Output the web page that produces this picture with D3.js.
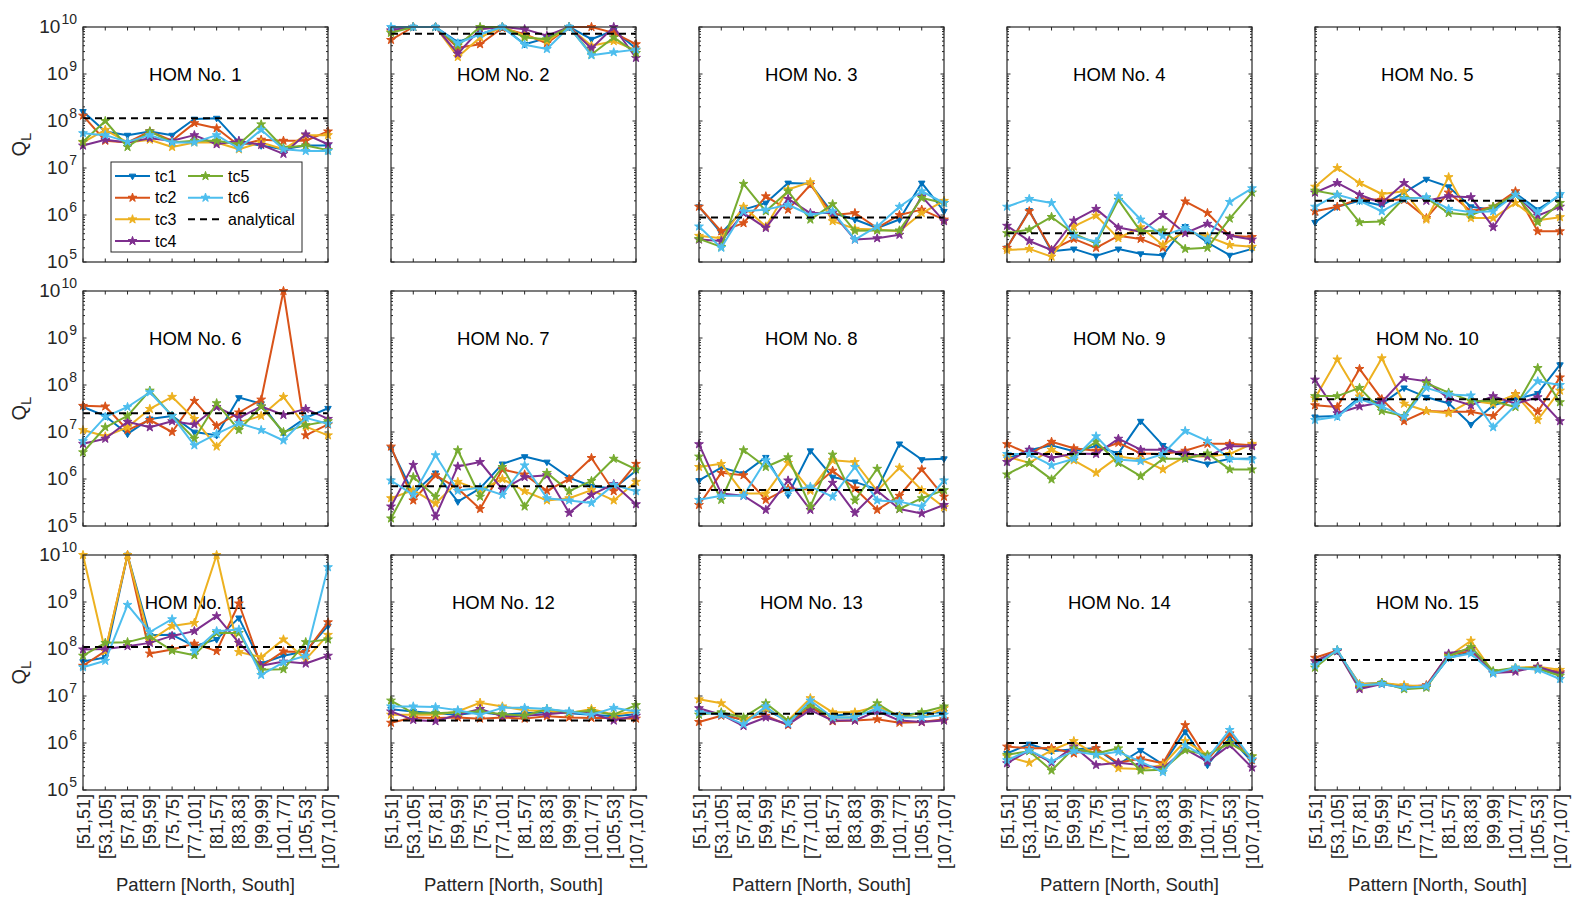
<!DOCTYPE html>
<html>
<head>
<meta charset="utf-8">
<script src="https://cdn.jsdelivr.net/npm/d3@7"></script>
<style>
  body { margin: 0; background: #fff; }
  text { font-family: "Liberation Sans", Arial, Helvetica, sans-serif; fill: #262626; }
</style>
</head>
<body>
<div id="chart"></div>
<script>
// x categories: pattern [North, South]
var patterns = ["[51,51]", "[53,105]", "[57,81]", "[59,59]", "[75,75]", "[77,101]",
                "[81,57]", "[83,83]", "[99,99]", "[101,77]", "[105,53]", "[107,107]"];
var homTitles = ["HOM No. 1", "HOM No. 2", "HOM No. 3", "HOM No. 4", "HOM No. 5",
                 "HOM No. 6", "HOM No. 7", "HOM No. 8", "HOM No. 9", "HOM No. 10",
                 "HOM No. 11", "HOM No. 12", "HOM No. 13", "HOM No. 14", "HOM No. 15"];
var seriesNames = ["tc1", "tc2", "tc3", "tc4", "tc5", "tc6"];
var seriesColors = ["#0072BD", "#D95319", "#EDB120", "#7E2F8E", "#77AC30", "#4DBEEE"];
var yTickExps = [5, 6, 7, 8, 9, 10];

// analytical Q_L per HOM
var analytical = [1.15e8, 7.2e9, 8.9e5, 4.1e5, 2e6, 2.5e7, 7e5, 5.8e5, 3.4e6, 5e7, 1.1e8, 3e6, 4.2e6, 1e6, 5.8e7];

// one row per HOM, 12 patterns each
var tc1 = [
  [1.6e8, 6e7, 5e7, 6e7, 5e7, 1.1e8, 1.15e8, 3.5e7, 3e7, 2.5e7, 3e7, 3e7],
  [9.5e9, 1e10, 1e10, 4.8e9, 7e9, 1e10, 4.3e9, 5.8e9, 1e10, 5.5e9, 8.5e9, 3.5e9],
  [1.5e6, 4.1e5, 1.3e6, 1.8e6, 4.8e6, 4.6e6, 1.1e6, 8e5, 5.3e5, 8e5, 4.8e6, 1.2e6],
  [2e5, 1.25e6, 1.7e5, 1.9e5, 1.35e5, 1.9e5, 1.5e5, 1.4e5, 5.7e5, 2.6e5, 1.4e5, 1.9e5],
  [7e5, 1.5e6, 2e6, 1.6e6, 3e6, 5.8e6, 4e6, 1.5e6, 1.3e6, 2.9e6, 1.3e6, 2.6e6],
  [3.4e7, 2.2e7, 9.1e6, 1.9e7, 2.2e7, 1e7, 8.5e6, 5.4e7, 4e7, 9.5e6, 2e7, 3.2e7],
  [4.5e6, 4.9e5, 1.35e6, 3.3e5, 6.3e5, 2.1e6, 3e6, 2.3e6, 1.07e6, 7e5, 6.3e5, 1.5e6],
  [9.3e5, 1.75e6, 1.3e6, 2.9e6, 4.6e5, 4e6, 1.1e6, 8.7e5, 6e5, 5.6e6, 2.6e6, 2.7e6],
  [2.7e6, 4.1e6, 5.2e6, 3.9e6, 5e6, 3.5e6, 1.7e7, 5.2e6, 2.8e6, 2.1e6, 2.7e6, 2.7e6],
  [2.1e7, 2.2e7, 5.5e7, 4e7, 8.7e7, 5.5e7, 4.1e7, 1.45e7, 3.7e7, 5e7, 6.6e7, 2.7e8],
  [5.4e7, 6.6e7, 1e10, 1.95e8, 2e8, 1.15e8, 1.6e8, 4.6e8, 4.9e7, 7.2e7, 9e7, 3.1e8],
  [5.2e6, 4.7e6, 4.3e6, 4e6, 4.5e6, 4e6, 4.3e6, 4.5e6, 4.3e6, 4e6, 3.7e6, 4.1e6],
  [4.5e6, 4.3e6, 3e6, 5e6, 3e6, 5.5e6, 3.8e6, 4.2e6, 4.5e6, 4e6, 4.3e6, 4.5e6],
  [6e5, 9.5e5, 6.7e5, 7.4e5, 7.7e5, 3.5e5, 7e5, 3.5e5, 1.75e6, 3.4e5, 1.3e6, 4e5],
  [5e7, 9e7, 1.8e7, 1.9e7, 1.6e7, 1.6e7, 6.5e7, 8.5e7, 3.3e7, 3.8e7, 4e7, 2.8e7]
];
var tc2 = [
  [1.3e8, 3.8e7, 3.5e7, 6e7, 3.8e7, 9e7, 7e7, 3e7, 4e7, 3.8e7, 3.8e7, 6e7],
  [5.3e9, 1e10, 1e10, 3.6e9, 4.3e9, 9.5e9, 7e9, 4.5e9, 1e10, 1e10, 7.5e9, 4.3e9],
  [1.5e6, 4.5e5, 6.7e5, 2.5e6, 1.3e6, 4.4e6, 1e6, 1.1e6, 5.3e5, 1e6, 1.3e6, 8e5],
  [2e5, 1.2e6, 1.8e5, 3.1e5, 2e5, 3.6e5, 3.1e5, 2e5, 1.95e6, 1.1e6, 3.6e5, 3.4e5],
  [1.2e6, 1.5e6, 2.2e6, 2.1e6, 2.1e6, 8.6e5, 3e6, 1.2e6, 1.5e6, 3.2e6, 4.5e5, 4.5e5],
  [3.6e7, 3.5e7, 1.1e7, 1.8e7, 1e7, 4.6e7, 1.35e7, 2.6e7, 4.9e7, 1e10, 8.5e6, 1.45e7],
  [4.9e6, 3.5e5, 1.2e6, 6.3e5, 2.3e5, 1.6e6, 1.25e6, 5.6e5, 1e6, 2.8e6, 5.5e5, 2.1e6],
  [2.8e5, 1.35e6, 1.2e6, 3.6e5, 6.3e5, 6e5, 1.5e6, 6.3e5, 2.2e5, 4.4e5, 1.6e6, 4.2e5],
  [5.5e6, 3.4e6, 6.2e6, 4.5e6, 4e6, 5.9e6, 3.5e6, 3.4e6, 4e6, 5.6e6, 5.6e6, 5.2e6],
  [3.7e7, 3.4e7, 2.2e8, 5e7, 1.7e7, 2.8e7, 2.7e7, 2.7e7, 2.2e7, 6.4e7, 2.7e7, 1.45e8],
  [4.4e7, 9e7, 1e10, 8e7, 9.8e7, 1.3e8, 9e7, 9.3e8, 4.3e7, 8.9e7, 8.6e7, 3.7e8],
  [2.7e6, 3.5e6, 3.4e6, 3.5e6, 3.3e6, 3.5e6, 3.3e6, 3.7e6, 3.5e6, 3.4e6, 3.4e6, 3.3e6],
  [2.8e6, 3.8e6, 3.2e6, 3.8e6, 2.4e6, 6e6, 2.9e6, 3e6, 3.2e6, 2.7e6, 2.8e6, 3.2e6],
  [8.4e5, 7.7e5, 7.8e5, 6e5, 7.7e5, 3.8e5, 4.7e5, 3.7e5, 2.4e6, 4.4e5, 1.6e6, 4.3e5],
  [6.5e7, 9.3e7, 1.5e7, 1.9e7, 1.6e7, 1.7e7, 7.5e7, 9e7, 3.2e7, 3.6e7, 4e7, 3.2e7]
];
var tc3 = [
  [3.5e7, 6.5e7, 3.5e7, 4e7, 2.8e7, 3.5e7, 3.5e7, 2.5e7, 3.5e7, 2.5e7, 5e7, 5e7],
  [8e9, 1e10, 1e10, 2.3e9, 6e9, 1e10, 6.5e9, 5e9, 1e10, 4e9, 5e9, 3.2e9],
  [3.6e5, 3.2e5, 1.5e6, 5.7e5, 3.5e6, 5e6, 7.4e5, 5.1e5, 4.9e5, 4.5e5, 1.1e6, 2e6],
  [1.8e5, 1.9e5, 1.3e5, 5.7e5, 9.7e5, 3.2e5, 5.5e5, 2.3e5, 4.5e5, 3.5e5, 2.3e5, 2.1e5],
  [4e6, 1e7, 4.8e6, 2.8e6, 3.2e6, 8e5, 6.4e6, 8.6e5, 8.6e5, 1.8e6, 7.7e5, 9e5],
  [1.1e7, 8.1e6, 1.26e7, 3.1e7, 5.6e7, 1.9e7, 4.9e6, 1.6e7, 2.2e7, 5.6e7, 1.3e7, 8.5e6],
  [3.9e5, 5.8e5, 3e5, 8.7e5, 5.8e5, 1e6, 5.5e5, 3.5e5, 3.9e5, 5.8e5, 3.5e5, 8.7e5],
  [1.8e6, 2.1e6, 4.9e5, 4.9e5, 2.2e6, 5.6e5, 2.5e6, 2.3e6, 5.6e5, 1.75e6, 5.8e5, 2.5e5],
  [3e6, 2.2e6, 4.2e6, 2.5e6, 1.35e6, 3e6, 2.6e6, 1.6e6, 3e6, 3e6, 3.4e6, 5.6e6],
  [5.2e7, 3.5e8, 5.7e7, 3.7e8, 4e7, 2.8e7, 2.5e7, 4.6e7, 4e7, 6.3e7, 1.8e7, 7.6e7],
  [1e10, 9e7, 1e10, 1.5e8, 3.1e8, 3.6e8, 1e10, 8.6e7, 6.7e7, 1.6e8, 6e7, 2e8],
  [4e6, 4e6, 4e6, 4.7e6, 7.2e6, 6e6, 5e6, 4.8e6, 4.3e6, 5.3e6, 4e6, 4.7e6],
  [8.5e6, 7e6, 3e6, 5.5e6, 3e6, 9e6, 4.5e6, 4.5e6, 6e6, 3.8e6, 3.5e6, 5.5e6],
  [5.2e5, 3.8e5, 7e5, 1.1e6, 5.6e5, 2.9e5, 2.8e5, 3.4e5, 1.1e6, 5.6e5, 1e6, 5.2e5],
  [5.5e7, 9e7, 1.8e7, 1.9e7, 1.7e7, 1.6e7, 7e7, 1.5e8, 3.2e7, 4e7, 4.2e7, 3.6e7]
];
var tc4 = [
  [3e7, 4e7, 3.5e7, 4.3e7, 3.8e7, 5e7, 3.2e7, 3.8e7, 3.1e7, 2e7, 5.2e7, 3.2e7],
  [8.5e9, 1e10, 1e10, 2.7e9, 9e9, 1e10, 9e9, 6.5e9, 1e10, 3.5e9, 1e10, 2.2e9],
  [3e5, 2.8e5, 1.1e6, 5.3e5, 2.2e6, 1.1e6, 1.1e6, 3e5, 3.2e5, 3.8e5, 2.5e6, 7.4e5],
  [5.9e5, 2.8e5, 1.8e5, 7.6e5, 1.35e6, 5.4e5, 4.4e5, 1e6, 4.1e5, 6.5e5, 3.6e5, 3e5],
  [3e6, 4.8e6, 2.7e6, 1.8e6, 4.8e6, 2e6, 2.5e6, 2.4e6, 5.5e5, 2.7e6, 9.7e5, 1.5e6],
  [5.6e6, 7.2e6, 1.65e7, 1.26e7, 1.7e7, 1.45e7, 3.4e7, 2e7, 3.5e7, 2.3e7, 3.1e7, 1.9e7],
  [2.6e5, 2e6, 1.6e5, 1.85e6, 2.3e6, 6e5, 1.1e6, 1.2e6, 1.9e5, 4.6e5, 7.8e5, 2.9e5],
  [5.5e6, 4.9e5, 4.4e5, 2.2e5, 9.3e5, 2.2e5, 8.3e5, 1.9e5, 5.6e5, 2.3e5, 1.85e5, 2.8e5],
  [2.3e6, 4.2e6, 2.8e6, 3.5e6, 3.4e6, 7.2e6, 4.2e6, 4.2e6, 3.5e6, 3e6, 5e6, 5e6],
  [1.3e8, 2.5e7, 3.5e7, 4.3e7, 1.4e8, 1.2e8, 5.2e7, 3.7e7, 5.8e7, 4e7, 5.5e7, 1.7e7],
  [9.8e7, 1e8, 1.15e8, 1.35e8, 1.9e8, 2.4e8, 5e8, 1.35e8, 4.4e7, 5.4e7, 4.9e7, 7.2e7],
  [4.7e6, 3.1e6, 2.9e6, 4e6, 5.3e6, 3.7e6, 3.8e6, 4.1e6, 4.5e6, 4.3e6, 3e6, 3.8e6],
  [5.5e6, 4e6, 2.3e6, 3.5e6, 2.5e6, 5e6, 3e6, 3e6, 4.8e6, 3e6, 2.8e6, 3e6],
  [3.7e5, 7e5, 3.8e5, 8.4e5, 3.4e5, 3.8e5, 3.4e5, 2.9e5, 7.4e5, 4e5, 9e5, 3e5],
  [5.5e7, 9e7, 1.4e7, 1.8e7, 1.5e7, 1.6e7, 8e7, 1e8, 3.1e7, 3.3e7, 4.2e7, 3e7]
];
var tc5 = [
  [3.6e7, 1e8, 2.8e7, 6e7, 3.5e7, 3.8e7, 3.8e7, 3.2e7, 8.5e7, 2.7e7, 3e7, 2.4e7],
  [7.5e9, 1e10, 1e10, 4e9, 1e10, 1e10, 6e9, 5.5e9, 1e10, 2.6e9, 6e9, 2.8e9],
  [3.1e5, 2.1e5, 4.6e6, 1.2e6, 3.2e6, 8e5, 1.7e6, 4.6e5, 4.7e5, 4.7e5, 2.3e6, 1.8e6],
  [4.1e5, 4.9e5, 9.1e5, 4e5, 2.5e5, 2.1e6, 4.5e5, 4.7e5, 1.9e5, 2e5, 8.4e5, 3e6],
  [3.3e6, 2.7e6, 7e5, 7.3e5, 2.3e6, 2.3e6, 1.1e6, 1e6, 1.5e6, 2.7e6, 7e5, 1.8e6],
  [3.7e6, 1.26e7, 2.2e7, 7.6e7, 2.2e7, 7.2e6, 4.1e7, 1.1e7, 3.5e7, 1e7, 1.4e7, 1.7e7],
  [1.45e5, 1.1e6, 4.2e5, 4.1e6, 4.2e5, 1.8e6, 2.6e5, 1.35e6, 5.5e5, 9.1e5, 2.7e6, 1.6e6],
  [3e6, 3.6e5, 4.1e6, 1.8e6, 2.9e6, 2.6e5, 3.3e6, 3.5e5, 1.65e6, 2.3e5, 3.9e5, 5.8e5],
  [1.25e6, 2.2e6, 9.8e5, 3e6, 6.2e6, 2.2e6, 1.15e6, 2.7e6, 2.7e6, 3.5e6, 1.6e6, 1.6e6],
  [5.8e7, 5.8e7, 8.7e7, 2.8e7, 2.2e7, 1.1e8, 6.9e7, 4.6e7, 4.5e7, 3.4e7, 2.3e8, 4.3e7],
  [7.2e7, 1.35e8, 1.4e8, 1.85e8, 9.2e7, 7.4e7, 2.2e8, 2.2e8, 3.6e7, 3.7e7, 1.4e8, 1.6e8],
  [8e6, 4.3e6, 4.3e6, 4.5e6, 4.7e6, 4.1e6, 3.8e6, 5.3e6, 4.5e6, 4.8e6, 4e6, 6.4e6],
  [4e6, 4.5e6, 3.5e6, 7e6, 3e6, 6.5e6, 3.5e6, 3.5e6, 7e6, 3.5e6, 4.5e6, 6e6],
  [5.6e5, 6.7e5, 2.6e5, 7.7e5, 6e5, 7.7e5, 2.6e5, 2.7e5, 7e5, 5.6e5, 1e6, 5.2e5],
  [4e7, 9.5e7, 1.6e7, 1.9e7, 1.4e7, 1.5e7, 7e7, 1.1e8, 3.4e7, 4e7, 3.8e7, 2.7e7]
];
var tc6 = [
  [5.5e7, 5e7, 3.6e7, 5e7, 3.5e7, 3.5e7, 5e7, 2.6e7, 6.5e7, 2.5e7, 2.3e7, 2.3e7],
  [1e10, 1e10, 1e10, 4.5e9, 7e9, 1e10, 4.2e9, 3.4e9, 1e10, 2.5e9, 2.9e9, 3.3e9],
  [5.7e5, 2e5, 1.2e6, 1.3e6, 1.65e6, 1e6, 1.2e6, 3e5, 5.7e5, 1.5e6, 3.2e6, 1.8e6],
  [1.5e6, 2.2e6, 1.8e6, 3.6e5, 2.7e5, 2.5e6, 8e5, 3.6e5, 5.3e5, 3e5, 1.9e6, 3.7e6],
  [1.5e6, 2.7e6, 2e6, 1.2e6, 2.2e6, 2.4e6, 1.35e6, 1.15e6, 1.2e6, 2.7e6, 1.15e6, 2.8e6],
  [6.4e6, 2.1e7, 3.4e7, 7e7, 2.2e7, 5.2e6, 9.1e6, 1.55e7, 1.1e7, 6.6e6, 2e7, 1.5e7],
  [9.3e5, 4.6e5, 3.2e6, 5.6e5, 6.6e5, 4.6e5, 1.95e6, 3.9e5, 3.5e5, 3.1e5, 7.5e5, 5.5e5],
  [3.6e5, 4.4e5, 4.4e5, 2.5e6, 5.4e5, 6.9e5, 4.2e5, 1.8e6, 3.5e5, 3.3e5, 2.6e5, 9.3e5],
  [3.4e6, 3.4e6, 1.95e6, 2.7e6, 8.1e6, 2.6e6, 2.4e6, 3.4e6, 1.05e7, 6.4e6, 2.7e6, 2.6e6],
  [1.8e7, 2.1e7, 5e7, 3.5e7, 2.1e7, 8.7e7, 6.3e7, 6e7, 1.26e7, 3.7e7, 1.2e8, 1e8],
  [4.1e7, 5.6e7, 8.7e8, 2.3e8, 4.3e8, 9e7, 2.4e8, 2.6e8, 2.8e7, 5.2e7, 7.2e7, 5.5e9],
  [6e6, 6e6, 5.8e6, 5e6, 4e6, 5.6e6, 5.6e6, 5.3e6, 4.7e6, 4e6, 5.6e6, 4.7e6],
  [4.5e6, 4e6, 2.5e6, 6e6, 2.6e6, 8e6, 3.5e6, 3.5e6, 5.5e6, 3.5e6, 3.5e6, 4e6],
  [4.3e5, 7e5, 4.1e5, 6.7e5, 5.6e5, 6.5e5, 4e5, 2.4e5, 9e5, 4.7e5, 1.9e6, 4.5e5],
  [4.5e7, 9.5e7, 1.7e7, 1.8e7, 1.5e7, 1.6e7, 6.5e7, 8e7, 3e7, 4e7, 3.6e7, 2.3e7]
];
var allSeries = [tc1, tc2, tc3, tc4, tc5, tc6];

var W = 1586, H = 904;
var axLeft = 83, axTop = 27, axW = 245, axH = 235, colStep = 308, rowStep = 264;

var svg = d3.select("#chart").append("svg")
  .attr("width", W).attr("height", H)
  .style("background", "#fff");

var x = d3.scalePoint().domain(patterns).range([0, axW]).padding(0);
var y = d3.scaleLog().domain([1e5, 1e10]).range([axH, 0]);

var symbols = [d3.symbolTriangle, d3.symbolStar, d3.symbolStar, d3.symbolStar, d3.symbolStar, d3.symbolStar];
function markerPath(i) {
  return d3.symbol().type(symbols[i]).size(i === 0 ? 18 : 24)();
}

var minorTicks = [];
for (var e = 5; e < 10; e++) for (var m = 2; m <= 9; m++) minorTicks.push(m * Math.pow(10, e));
var majorTicks = yTickExps.map(function(k){ return Math.pow(10, k); });

var line = d3.line().x(function(d, i){ return x(patterns[i]); }).y(function(d){ return y(d); });

homTitles.forEach(function(title, h) {
  var row = Math.floor(h / 5), col = h % 5;
  var g = svg.append("g")
    .attr("transform", "translate(" + (axLeft + col * colStep) + "," + (axTop + row * rowStep) + ")");

  g.append("rect").attr("width", axW).attr("height", axH)
    .attr("fill", "#fff");

  // tick marks inside the box
  var tk = g.append("g").attr("stroke", "#262626").attr("stroke-width", 1);
  patterns.forEach(function(p) {
    tk.append("line").attr("x1", x(p)).attr("x2", x(p)).attr("y1", axH).attr("y2", axH - 3.5);
    tk.append("line").attr("x1", x(p)).attr("x2", x(p)).attr("y1", 0).attr("y2", 3.5);
  });
  majorTicks.forEach(function(v) {
    tk.append("line").attr("x1", 0).attr("x2", 3.5).attr("y1", y(v)).attr("y2", y(v));
    tk.append("line").attr("x1", axW).attr("x2", axW - 3.5).attr("y1", y(v)).attr("y2", y(v));
  });
  minorTicks.forEach(function(v) {
    tk.append("line").attr("x1", 0).attr("x2", 2).attr("y1", y(v)).attr("y2", y(v));
    tk.append("line").attr("x1", axW).attr("x2", axW - 2).attr("y1", y(v)).attr("y2", y(v));
  });

  // title text at ([77,101], 1e9)
  g.append("text")
    .attr("x", x(patterns[5]) + 1).attr("y", y(1e9) + 6.5)
    .attr("text-anchor", "middle").attr("font-size", 18.5).style("fill", "#000")
    .text(title);

  // series
  allSeries.forEach(function(s, i) {
    var vals = s[h];
    g.append("path").datum(vals)
      .attr("d", line).attr("fill", "none")
      .attr("stroke", seriesColors[i]).attr("stroke-width", 2)
      .attr("stroke-linejoin", "round");
    g.selectAll(".m" + i).data(vals).enter().append("path")
      .attr("class", "m" + i)
      .attr("d", markerPath(i))
      .attr("transform", function(d, j) {
        return "translate(" + x(patterns[j]) + "," + y(d) + ")" + (i === 0 ? " rotate(180)" : "");
      })
      .attr("fill", seriesColors[i]).attr("stroke", seriesColors[i]).attr("stroke-width", 1);
  });

  // analytical
  g.append("line")
    .attr("x1", 0).attr("x2", axW)
    .attr("y1", y(analytical[h])).attr("y2", y(analytical[h]))
    .attr("stroke", "#000").attr("stroke-width", 2).attr("stroke-dasharray", "7,5");

  // box
  g.append("rect").attr("width", axW).attr("height", axH)
    .attr("fill", "none").attr("stroke", "#262626").attr("stroke-width", 1.2);

  // y labels (first column)
  if (col === 0) {
    yTickExps.forEach(function(k) {
      var t = g.append("text").attr("x", -6).attr("y", y(Math.pow(10, k)) + 6)
        .attr("text-anchor", "end").attr("font-size", 19);
      t.append("tspan").text("10");
      t.append("tspan").attr("dx", 1).attr("dy", -9).attr("font-size", 14).text(k);
    });
    var ql = g.append("text")
      .attr("transform", "translate(-57," + (axH / 2) + ") rotate(-90)")
      .attr("text-anchor", "middle").attr("font-size", 20);
    ql.append("tspan").text("Q");
    ql.append("tspan").attr("dy", 5).attr("font-size", 15).text("L");
  }

  // x labels (bottom row)
  if (row === 2) {
    patterns.forEach(function(p) {
      g.append("text")
        .attr("transform", "translate(" + (x(p) + 6.5) + "," + (axH + 4) + ") rotate(-90)")
        .attr("text-anchor", "end").attr("font-size", 18)
        .text(p);
    });
    g.append("text")
      .attr("x", axW / 2).attr("y", axH + 101)
      .attr("text-anchor", "middle").attr("font-size", 18.5)
      .text("Pattern [North, South]");
  }

  // legend in first panel
  if (h === 0) {
    var lg = g.append("g").attr("transform", "translate(28,135)");
    lg.append("rect").attr("width", 191).attr("height", 90)
      .attr("fill", "#fff").attr("stroke", "#262626").attr("stroke-width", 1);
    var items = seriesNames.map(function(n, i){ return {name: n, i: i}; });
    items.push({name: "analytical", i: -1});
    var slots = [[0,0],[0,1],[0,2],[0,3],[1,0],[1,1],[1,2]];
    var lx = d3.scaleLinear().domain([0, 1]).range([4, 77]);
    var ly = d3.scaleLinear().domain([0, 3]).range([14, 79]);
    items.forEach(function(it, j) {
      var sx = lx(slots[j][0]), sy = ly(slots[j][1]);
      var li = lg.append("g").attr("transform", "translate(" + sx + "," + sy + ")");
      if (it.i >= 0) {
        li.append("line").attr("x1", 0).attr("x2", 35).attr("y1", 0).attr("y2", 0)
          .attr("stroke", seriesColors[it.i]).attr("stroke-width", 2);
        li.append("path").attr("d", markerPath(it.i))
          .attr("transform", "translate(17.5,0)" + (it.i === 0 ? " rotate(180)" : ""))
          .attr("fill", seriesColors[it.i]).attr("stroke", seriesColors[it.i]);
      } else {
        li.append("line").attr("x1", 0).attr("x2", 35).attr("y1", 0).attr("y2", 0)
          .attr("stroke", "#000").attr("stroke-width", 2).attr("stroke-dasharray", "7,5");
      }
      li.append("text").attr("x", 40).attr("y", 5.5).attr("font-size", 16).style("fill", "#000")
        .text(it.name);
    });
  }
});
</script>
</body>
</html>
